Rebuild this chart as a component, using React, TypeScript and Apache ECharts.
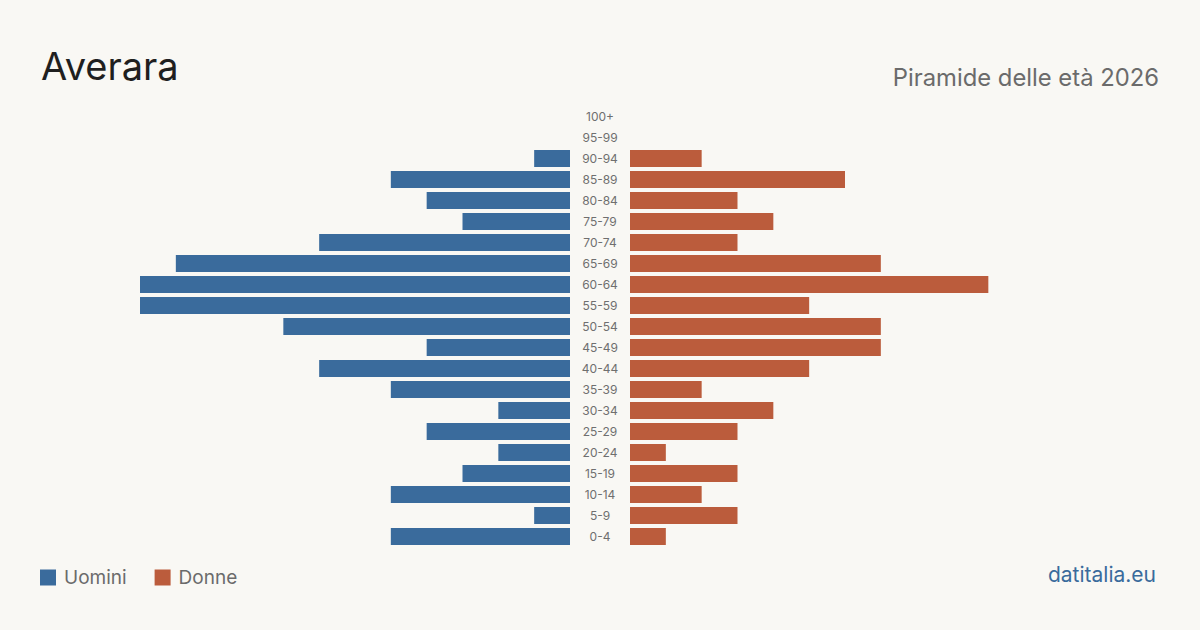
import React, { useEffect, useRef } from "react";
import * as echarts from "echarts";

const ageGroups = [
  "0-4", "5-9", "10-14", "15-19", "20-24", "25-29", "30-34", "35-39", "40-44",
  "45-49", "50-54", "55-59", "60-64", "65-69", "70-74", "75-79", "80-84",
  "85-89", "90-94", "95-99", "100+",
];
const men = [5, 1, 5, 3, 2, 4, 2, 5, 7, 4, 8, 12, 12, 11, 7, 3, 4, 5, 1, 0, 0];
const women = [1, 3, 2, 3, 1, 3, 4, 2, 5, 7, 7, 5, 10, 7, 3, 4, 3, 6, 2, 0, 0];
const axisMax = 12;

const BLUE = "#3a6b9c";
const ORANGE = "#bb5c3c";
const FONT = "Inter, 'Noto Sans', sans-serif";

export default function App() {
  const ref = useRef<HTMLDivElement>(null);

  useEffect(() => {
    if (!ref.current) return;
    const chart = echarts.init(ref.current, undefined, { renderer: "svg" });
    chart.setOption({
      animation: false,
      backgroundColor: "#f9f8f4",
      textStyle: { fontFamily: FONT },
      title: [
        {
          text: "Averara",
          left: 36,
          top: 42,
          textStyle: { fontSize: 38, fontWeight: "normal", color: "#1f1f1f", fontFamily: FONT },
        },
        {
          text: "Piramide delle età 2026",
          right: 36,
          top: 60,
          textStyle: { fontSize: 23.8, fontWeight: "normal", color: "#6b6b6b", fontFamily: FONT },
        },
        {
          text: "datitalia.eu",
          right: 39,
          top: 559,
          textStyle: { fontSize: 21, fontWeight: "normal", color: "#3a6b9c", fontFamily: FONT },
        },
      ],
      legend: {
        left: 40,
        top: 568,
        padding: 0,
        itemWidth: 16,
        itemHeight: 16,
        itemGap: 28,
        icon: "rect",
        textStyle: { fontSize: 19, color: "#6b6b6b", fontFamily: FONT, padding: [0, 0, 0, 3] },
        data: ["Uomini", "Donne"],
      },
      grid: [
        { left: 140, width: 430, top: 106, height: 441 },
        { left: 630, width: 430, top: 106, height: 441 },
      ],
      xAxis: [
        { gridIndex: 0, type: "value", min: 0, max: axisMax, inverse: true, show: false },
        { gridIndex: 1, type: "value", min: 0, max: axisMax, show: false },
      ],
      yAxis: [
        {
          gridIndex: 0,
          type: "category",
          data: ageGroups,
          position: "right",
          axisLine: { show: false },
          axisTick: { show: false },
          axisLabel: {
            margin: 30,
            align: "center",
            fontSize: 12,
            color: "#6f6f6f",
            fontFamily: FONT,
          },
        },
        {
          gridIndex: 1,
          type: "category",
          data: ageGroups,
          show: false,
        },
      ],
      series: [
        {
          name: "Uomini",
          type: "bar",
          xAxisIndex: 0,
          yAxisIndex: 0,
          data: men,
          barWidth: 17,
          itemStyle: { color: BLUE },
        },
        {
          name: "Donne",
          type: "bar",
          xAxisIndex: 1,
          yAxisIndex: 1,
          data: women,
          barWidth: 17,
          itemStyle: { color: ORANGE },
        },
      ],
    });
    return () => chart.dispose();
  }, []);

  return <div ref={ref} style={{ width: 1200, height: 630, position: "absolute", left: 0, top: 0 }} />;
}
